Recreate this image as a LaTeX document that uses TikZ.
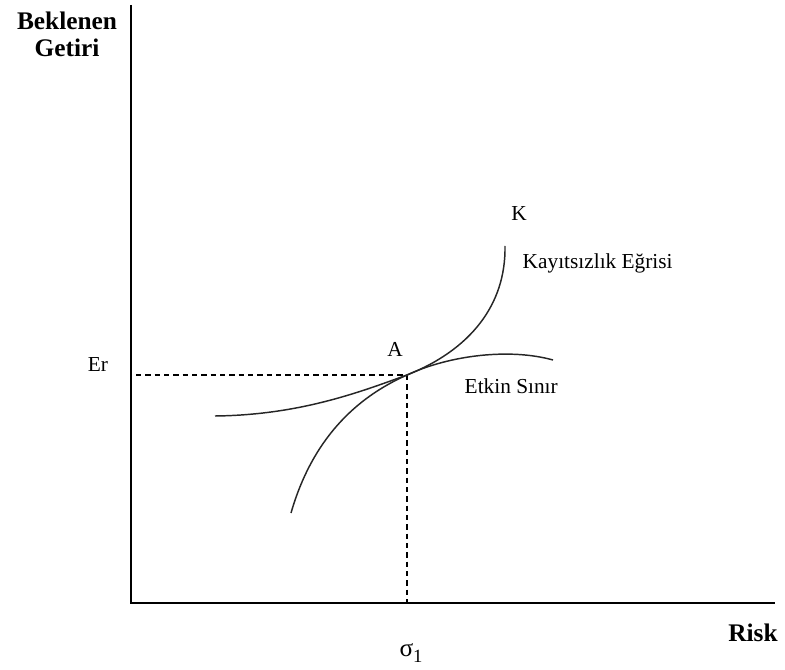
\documentclass[tikz,border=0pt]{standalone}
\usepackage{fontspec}
\setmainfont{Liberation Serif}
\usepackage{tikz}
\usetikzlibrary{positioning, calc}
\tikzset{
  axisline/.style={line width=1.4pt,color=black},
  curveline/.style={line width=1.1pt,color=black!85},
  guideline/.style={line width=0.8pt,color=black,dash pattern=on 4pt off 3pt},
  axislabel/.style={font=\fontsize{19}{21}\selectfont\bfseries,inner sep=1pt},
  ptlabel/.style={font=\fontsize{16}{18}\selectfont},
  curvelabel/.style={font=\fontsize{16}{18}\selectfont,anchor=west}
}

\begin{document}
\begin{tikzpicture}[x=0.75pt,y=-0.75pt]
  \useasboundingbox (0,0) rectangle (785,670);

  %% Axes
  \coordinate (origin) at (131,603);
  \coordinate (yTop) at (131,5);
  \coordinate (xEnd) at (775,603);
  \draw[axisline] (yTop) -- (origin) -- (xEnd);

  %% Tangent point and guides
  \coordinate (ptA) at (407,375);
  \coordinate (erStart) at (136,375);
  \coordinate (sigBase) at (407,603);
  \draw[guideline] (erStart) -- (ptA);
  \draw[guideline] (ptA) -- (sigBase);

  %% Indifference curve
  \draw[curveline] (291,513) .. controls (312,440) and (355,398) .. (ptA)
                   .. controls (470,350) and (506,305) .. (505,246);

  %% Efficient frontier
  \draw[curveline] (215,416) .. controls (300,415) and (360,392) .. (ptA)
                   .. controls (450,355) and (510,348) .. (553,360);

  %% Labels
  \node[axislabel] (yLabel) at (67,21) {Beklenen};
  \node[axislabel,below=4pt of yLabel] (yLabelB) {Getiri};
  \node[axislabel] (xLabel) at (753,633) {Risk};
  \node[ptlabel] (erLabel) at (98,365) {Er};
  \node[ptlabel,font=\fontsize{19}{21}\selectfont] (sigLabel) at (411,653) {σ\raisebox{-4pt}{\fontsize{14}{16}\selectfont 1}};
  \node[ptlabel] (aLabel) at (395,349) {A};
  \node[ptlabel] (kLabel) at (519,214) {K};
  \node[curvelabel] (icLabel) at (518,263) {Kayıtsızlık Eğrisi};
  \node[curvelabel] (efLabel) at (460,386) {Etkin Sınır};
\end{tikzpicture}
\end{document}
